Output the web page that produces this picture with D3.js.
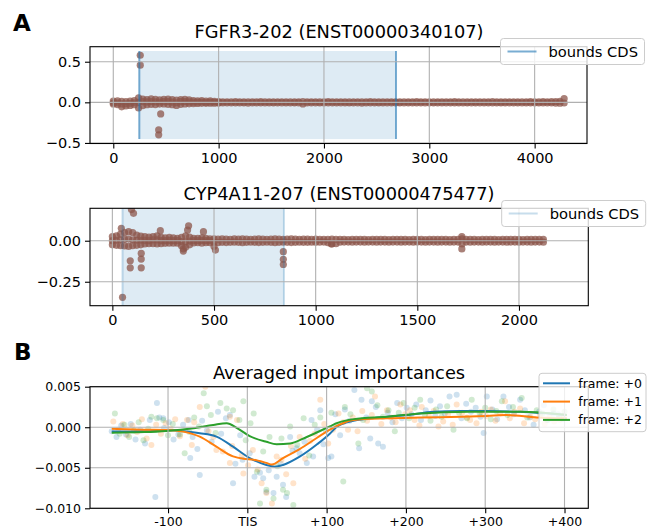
<!DOCTYPE html>
<html>
<head>
<meta charset="utf-8">
<script src="https://cdn.jsdelivr.net/npm/d3@7"></script>
<style>
  body { margin: 0; background: #fff; }
  svg { display: block; font-family: "DejaVu Sans", sans-serif; }
</style>
</head>
<body>
<svg id="chart" width="653" height="529"></svg>
<script>
// ---------- data ----------
// FGFR3-202: per-nucleotide importances, upper/middle/lower track of the dense band every 40 nt (x1000)
const fgfrStep = 40;
const fgfrHi = [15,18,12,10,14,20,55,40,35,42,38,30,36,40,33,28,35,38,30,22,18,20,15,18,12,10,
  6,7,6,8,6,5,7,6,6,8,7,6,5,6,7,6,6,5,7,8,
  6,6,7,5,6,9,6,6,7,6,5,6,7,6,6,8,6,5,6,7,
  6,6,5,7,6,6,8,6,7,6,5,6,6,7,6,8,6,6,5,7,
  6,7,6,6,8,6,5,6,7,6,6,7,6,8,7,6,9,7,8,10,
  12,45];
const fgfrMid = [-5,-8,-20,-18,-12,-5,0,8,5,10,6,4,8,10,2,-5,8,10,5,3,2,4,0,3,1,0];
const fgfrLo = [-20,-28,-55,-45,-38,-30,-70,-40,-30,-25,-28,-22,-20,-25,-30,-38,-25,-20,-18,-15,-14,-12,-12,-10,-10,-9,
  -7,-6,-8,-6,-7,-6,-9,-6,-7,-6,-8,-7,-6,-6,-7,-6,-8,-6,-7,-20,
  -7,-6,-6,-8,-7,-6,-6,-7,-6,-6,-8,-7,-6,-9,-7,-6,-6,-7,-6,-6,
  -6,-7,-6,-8,-6,-7,-6,-6,-7,-6,-8,-6,-7,-6,-6,-7,-6,-8,-6,-7,
  -6,-6,-7,-6,-8,-6,-7,-6,-6,-7,-6,-8,-7,-6,-7,-8,-7,-6,-8,-9,
  -10,-8];
const fgfrOutPos = [256, 256, 450, 431, 431];
const fgfrOutVal = [0.58, 0.457, -0.143, -0.34, -0.40];
const fgfrCds = [247, 2684];

// CYP4A11-207: same layout, band every 20 nt (x1000)
const cypStep = 20;
const cypHi = [25,30,40,50,55,50,35,28,25,22,25,30,20,18,20,18,15,20,30,22,15,14,18,15,12,12,
  10,12,10,9,11,10,12,10,9,10,11,10,9,10,12,10,9,10,11,10,9,10,10,9,10,
  8,9,8,10,8,8,9,7,8,8,9,8,7,8,9,8,8,7,8,9,8,8,7,8,9,8,7,8,8,9,
  8,8,7,8,8,12,8,9,8,7,8,8,9,8,7,8,8,9,8,8,7,8,9,8,8,9];
const cypMid = [0,3,5,8,10,5,3,3,2,0,5,5,0,0,2,0,0,-5,-8,-2,0,0,2,0,0,-10];
const cypLo = [-25,-28,-30,-32,-35,-30,-28,-25,-20,-18,-18,-20,-18,-16,-15,-15,-15,-30,-40,-25,-14,-12,-15,-12,-12,-35,
  -12,-10,-11,-10,-9,-10,-12,-10,-9,-10,-11,-10,-9,-10,-12,-10,-9,-10,-11,-10,-9,-10,-10,-9,-10,
  -9,-8,-12,-20,-18,-9,-8,-8,-9,-8,-8,-9,-8,-8,-9,-8,-8,-9,-8,-8,-9,-8,-8,-9,-8,-8,-9,-8,-8,-9,
  -8,-8,-9,-8,-8,-20,-8,-9,-8,-8,-9,-8,-8,-9,-8,-8,-9,-8,-8,-9,-8,-8,-9,-8,-8,-9];
const cypOutPos = [94, 104, 44, 236, 375, 370, 448, 88, 88, 142, 142, 142, 50, 349, 349, 507, 841, 841, 841, 1719, 1719, 1077];
const cypOutVal = [0.19, 0.167, 0.076, 0.061, 0.091, 0.065, 0.055, -0.122, -0.165, -0.077, -0.112, -0.165, -0.345,
  -0.063, -0.05, -0.057, -0.067, -0.113, -0.145, 0.025, -0.05, -0.02];
const cypCds = [50, 844];

// Averaged importances around the TIS, per reading frame (values x1e-4)
const frames = ["frame: +0", "frame: +1", "frame: +2"];
const frameColors = ["#1f77b4", "#ff7f0e", "#2ca02c"];
const f0Pos = [-171,-165,-159,-153,-147,-141,-135,-129,-123,-116,-114,-111,-106,-105,-99,-93,-87,-81,-74,-72,-69,-63,-60,-57,-51,-45,-37,-33,-27,-22,-18,-15,-9,-6,3,9,16,20,24,27,33,37,42,45,49,54,57,62,66,72,75,81,83,88,92,96,102,106,111,117,123,129,133,135,141,144,150,155,157,162,165,171,177,183,189,195,201,207,213,219,225,231,237,243,249,255,264,270,276,282,288,294,298,302,309,315,323,330,336,344,350,356,361,368,374,378,386,392,398];
const f0Val = [-5,-12,2,-9,4,-15,-3,-20,9,-86,30,12,11,-1,6,-15,-9,3,9,-38,-12,-27,-59,8,-4,-18,19,-8,11,15,-69,-45,-10,-40,-32,-61,-56,-63,-80,-53,-81,-61,-45,-71,-86,-12,-29,-26,-32,-18,-44,9,-36,-3,21,-21,-38,-36,16,-10,22,8,58,46,-26,34,12,-14,32,25,-20,-24,18,6,30,11,24,16,28,9,21,33,14,26,17,38,40,11,29,19,24,13,-7,38,22,10,38,25,16,34,21,12,3,19,27,9,17,16,10];
const f1Pos = [-169,-163,-157,-151,-145,-139,-133,-127,-121,-115,-109,-103,-97,-91,-85,-76,-70,-67,-60,-53,-49,-43,-39,-31,-22,-22,-19,-13,-7,-5,1,7,13,18,24,31,37,43,49,55,58,66,73,79,85,92,97,102,108,115,121,127,133,139,145,151,157,161,169,176,181,187,193,199,205,211,217,220,229,235,241,247,253,259,264,271,277,281,289,295,301,307,313,319,325,331,337,344,349,357,363,369,375,381,387,394,399];
const f1Val = [7,-3,4,-10,2,-6,10,-14,-22,3,-8,5,-2,10,-11,9,-22,6,25,50,-5,-12,-28,-30,-44,13,-23,9,-35,-57,-47,-28,-52,-69,-81,-94,-36,-40,-58,-23,-69,-12,-39,-17,-8,34,4,-20,-3,17,6,-3,12,-5,20,8,15,38,4,21,12,6,28,16,21,9,2,25,14,20,1,7,16,3,28,18,12,9,5,19,14,22,8,17,32,11,19,23,5,13,10,16,4,12,7,9,14];
const f2Pos = [-167,-161,-155,-149,-143,-137,-131,-125,-121,-114,-106,-100,-94,-85,-79,-73,-67,-61,-55,-51,-46,-40,-34,-26,-18,-10,-5,-2,4,8,12,16,20,24,28,33,38,43,45,50,54,58,63,71,78,85,92,99,106,113,121,123,130,140,146,151,157,164,171,178,186,191,197,204,211,218,224,231,238,245,252,260,267,277,283,293,300,307,314,321,328,335,346,353,365,372,379,386,393,400];
const f2Val = [17,-8,3,-12,-4,6,-16,-2,13,11,9,-10,4,-9,-32,-6,12,1,42,26,15,-7,30,23,21,9,32,-16,5,17,-55,-94,-30,-77,-12,-88,-48,-14,-77,-81,1,-96,-22,11,-35,3,12,-4,18,3,-67,25,16,-20,9,48,44,27,13,21,-5,18,30,11,24,34,15,8,22,13,26,-3,18,11,34,17,24,10,20,32,15,25,36,12,21,17,9,22,14,19];
// smoothed trend per frame (x1e-4)
const trendPos = [[-171,-130,-100,-80,-60,-39,-18,3,24,35,45,66,88,104,113,134,167,201,235,270,302,344,403],
                  [-171,-130,-102,-81,-60,-39,-18,-5,8,24,31,45,66,88,104,134,176,218,270,302,327,365,403],
                  [-171,-130,-102,-68,-43,-26,-13,3,24,37,54,75,104,113,134,176,218,280,344,403]];
const trendVal = [[-5.4,-5,-3.5,-5,-7.4,-11.6,-24,-38,-46.5,-48.6,-46.5,-36.3,-21,-8,0.8,8,12,15,19,20,20,19,15],
                  [-2,-3,-3.3,-5.4,-11.6,-24,-36,-39,-40,-44,-46,-38,-27,-13,-3,9,11,12,13,14,15,12,11],
                  [-6.7,-6,-4.6,-1.2,2.8,5,-1,-11,-18,-21,-20,-12,1,5,10,13,17,19,19,15]];
const tisTicks = [-100, 0, 100, 200, 300, 400];
const tisLabels = ["-100", "TIS", "+100", "+200", "+300", "+400"];

// ---------- drawing ----------
const svg = d3.select("#chart");
const GRID = "#b0b0b0";
const minus = s => s.replace("-", "\u2212");

function addClip(id, x0, y0, w, h) {
  svg.append("clipPath").attr("id", id).append("rect")
    .attr("x", x0).attr("y", y0).attr("width", w).attr("height", h);
}

function drawGrid(g, x, y, xt, yt) {
  const [x0, x1] = x.range(), [y0, y1] = y.range();
  g.append("g").selectAll("line").data(xt).join("line")
    .attr("x1", d => x(d)).attr("x2", d => x(d)).attr("y1", y0).attr("y2", y1)
    .attr("stroke", GRID).attr("stroke-width", 1.1);
  g.append("g").selectAll("line").data(yt).join("line")
    .attr("x1", x0).attr("x2", x1).attr("y1", d => y(d)).attr("y2", d => y(d))
    .attr("stroke", GRID).attr("stroke-width", 1.1);
}

function drawFrame(g, x, y, xt, yt, xFmt, yFmt, fs) {
  const [x0, x1] = x.range(), [y0, y1] = y.range();
  const xa = d3.axisBottom(x).tickValues(xt).tickFormat(xFmt).tickSize(5).tickPadding(4);
  const ya = d3.axisLeft(y).tickValues(yt).tickFormat(yFmt).tickSize(5).tickPadding(4);
  const gx = g.append("g").attr("transform", `translate(0,${y0})`).call(xa);
  const gy = g.append("g").attr("transform", `translate(${x0},0)`).call(ya);
  [gx, gy].forEach(a => {
    a.select(".domain").remove();
    a.selectAll(".tick line").attr("stroke", "#000").attr("stroke-width", 1.1);
    a.selectAll(".tick text").attr("fill", "#000").attr("font-size", fs)
      .attr("font-family", "DejaVu Sans, sans-serif");
  });
  g.append("rect").attr("x", x0).attr("y", y1).attr("width", x1 - x0).attr("height", y0 - y1)
    .attr("fill", "none").attr("stroke", "#000").attr("stroke-width", 1.1);
}

function drawTranscript(p) {
  const g = svg.append("g");
  const x = d3.scaleLinear().domain(p.xDom).range([90, p.right]);
  const y = d3.scaleLinear().domain(p.yDom).range([p.bottom, p.top]);
  addClip(p.id, 90, p.top, p.right - 90, p.bottom - p.top);
  const plot = g.append("g").attr("clip-path", `url(#${p.id})`);
  const spanTop = p.span ? y(p.span[1]) : p.top;
  const spanBot = p.span ? y(p.span[0]) : p.bottom;
  plot.append("rect").attr("x", x(p.cds[0])).attr("width", x(p.cds[1]) - x(p.cds[0]))
    .attr("y", spanTop).attr("height", spanBot - spanTop)
    .attr("fill", "#1f77b4").attr("fill-opacity", 0.15);

  const pts = [];
  [p.hi, p.mid, p.lo].forEach(track => track.forEach((v, i) => pts.push([i * p.step, v / 1000])));
  p.outPos.forEach((v, i) => pts.push([v, p.outVal[i]]));
  plot.append("g").selectAll("circle").data(pts).join("circle")
    .attr("cx", d => x(d[0])).attr("cy", d => y(d[1])).attr("r", 3.6)
    .attr("fill", "#8c564b").attr("fill-opacity", 0.75);

  drawGrid(g, x, y, p.xTicks, p.yTicks);
  plot.append("g").selectAll("line").data(p.cds).join("line")
    .attr("x1", d => x(d)).attr("x2", d => x(d)).attr("y1", spanTop).attr("y2", spanBot)
    .attr("stroke", "#1f77b4").attr("stroke-opacity", p.lineAlpha).attr("stroke-width", 2);
  drawFrame(g, x, y, p.xTicks, p.yTicks, d3.format("d"), d => minus(d3.format(p.yFmt)(d)), 14.5);

  g.append("text").attr("x", 339).attr("y", p.titleY).attr("text-anchor", "middle")
    .attr("font-size", 17.8).text(p.title);

  const lg = g.append("g").attr("transform", `translate(${p.legend[0]},${p.legend[1]})`);
  lg.append("rect").attr("width", 144).attr("height", 26).attr("rx", 3)
    .attr("fill", "#fff").attr("fill-opacity", 0.8).attr("stroke", "#cccccc");
  lg.append("line").attr("x1", 7).attr("x2", 36).attr("y1", 13).attr("y2", 13)
    .attr("stroke", "#1f77b4").attr("stroke-opacity", p.lineAlpha).attr("stroke-width", 2);
  lg.append("text").attr("x", 48).attr("y", 18).attr("font-size", 14.7).text("bounds CDS");
}

drawTranscript({
  id: "c1", title: "FGFR3-202 (ENST00000340107)", titleY: 37.5,
  xDom: [-221, 4497], right: 587, yDom: [-0.507, 0.685], top: 46.7, bottom: 143.5,
  hi: fgfrHi, mid: fgfrMid, lo: fgfrLo, step: fgfrStep, outPos: fgfrOutPos, outVal: fgfrOutVal,
  cds: fgfrCds, span: [-0.453, 0.632], lineAlpha: 0.6,
  xTicks: [0, 1000, 2000, 3000, 4000], yTicks: [-0.5, 0, 0.5], yFmt: ".1f",
  legend: [500.5, 38.5]
});

drawTranscript({
  id: "c2", title: "CYP4A11-207 (ENST00000475477)", titleY: 199.5,
  xDom: [-110, 2341], right: 588.3, yDom: [-0.396, 0.1976], top: 208.3, bottom: 305.7,
  hi: cypHi, mid: cypMid, lo: cypLo, step: cypStep, outPos: cypOutPos, outVal: cypOutVal,
  cds: cypCds, span: null, lineAlpha: 0.25,
  xTicks: [0, 500, 1000, 1500, 2000], yTicks: [-0.25, 0], yFmt: ".2f",
  legend: [501.7, 200.5]
});

// panel B
(function drawAveraged() {
  const g = svg.append("g");
  const x = d3.scaleLinear().domain([-198.4, 430]).range([90, 588.3]);
  const y = d3.scaleLinear().domain([-0.010, 0.005]).range([508.3, 386.7]);
  addClip("c3", 90, 386.7, 498.3, 121.6);
  const plot = g.append("g").attr("clip-path", "url(#c3)");
  const series = [[f0Pos, f0Val], [f1Pos, f1Val], [f2Pos, f2Val]];
  series.forEach(([ps, vs], k) => {
    plot.append("g").selectAll("circle").data(ps).join("circle")
      .attr("cx", d => x(d)).attr("cy", (d, i) => y(vs[i] / 10000)).attr("r", 3)
      .attr("fill", frameColors[k]).attr("fill-opacity", 0.22);
  });
  drawGrid(g, x, y, tisTicks, [-0.01, -0.005, 0, 0.005]);
  const line = d3.line().x(d => x(d[0])).y(d => y(d[1] / 10000)).curve(d3.curveMonotoneX);
  trendPos.forEach((ps, k) => {
    plot.append("path").datum(ps.map((p, i) => [p, trendVal[k][i]]))
      .attr("d", line).attr("fill", "none").attr("stroke", frameColors[k]).attr("stroke-width", 2);
  });
  drawFrame(g, x, y, tisTicks, [-0.01, -0.005, 0, 0.005],
    (d, i) => tisLabels[i], d => minus(d3.format(".3f")(d)), 12.5);

  g.append("text").attr("x", 339).attr("y", 378.5).attr("text-anchor", "middle")
    .attr("font-size", 17.8).text("Averaged input importances");

  const lg = g.append("g").attr("transform", "translate(539,373.3)");
  lg.append("rect").attr("width", 107).attr("height", 58.4).attr("rx", 3)
    .attr("fill", "#fff").attr("fill-opacity", 0.8).attr("stroke", "#cccccc");
  frames.forEach((f, k) => {
    const cy = 10 + k * 18.3;
    lg.append("line").attr("x1", 4).attr("x2", 31).attr("y1", cy).attr("y2", cy)
      .attr("stroke", frameColors[k]).attr("stroke-width", 2);
    lg.append("text").attr("x", 39.3).attr("y", cy + 4.5).attr("font-size", 12.5).text(f);
  });
})();

// panel letters
svg.append("text").attr("x", 13).attr("y", 31).attr("font-size", 23).attr("font-weight", "bold").text("A");
svg.append("text").attr("x", 14).attr("y", 360).attr("font-size", 23).attr("font-weight", "bold").text("B");
</script>
</body>
</html>
